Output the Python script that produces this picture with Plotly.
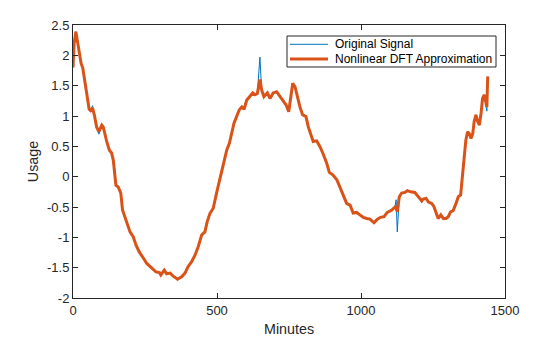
import plotly.graph_objects as go

# Sample times (minutes) shared by both series
minutes = [
    0, 4, 10, 15, 22, 28, 34, 39, 45, 50, 56, 61, 68, 74, 82, 90, 100, 105, 111, 117,
    126, 134, 140, 144, 149, 157, 166, 172, 180, 189, 198, 209, 219, 230, 238, 248, 256,
    267, 277, 288, 300, 305, 317, 325, 337, 348, 363, 377, 389, 400, 412, 424, 435, 447,
    458, 466, 476, 487, 499, 508, 516, 524, 534, 543, 551, 559, 568, 577, 586, 594, 603,
    612, 624, 632, 640, 649, 655, 663, 675, 684, 695, 707, 719, 730, 740, 749, 756, 763,
    771, 779, 788, 797, 809, 817, 825, 834, 846, 858, 869, 881, 890, 902, 916, 927, 938,
    950, 962, 973, 985, 996, 1008, 1020, 1031, 1045, 1057, 1068, 1080, 1091, 1107, 1118,
    1122, 1126, 1133, 1141, 1153, 1161, 1172, 1187, 1199, 1211, 1216, 1226, 1234, 1245,
    1253, 1260, 1268, 1277, 1286, 1295, 1303, 1311, 1320, 1330, 1338, 1346, 1353, 1359,
    1364, 1370, 1376, 1382, 1388, 1393, 1399, 1405, 1411, 1417, 1422, 1428, 1434, 1437, 1440,
]

# Nonlinear DFT approximation of the usage signal
approx = [
    1.80, 2.20, 2.39, 2.25, 2.03, 1.87, 1.79, 1.62, 1.40, 1.24, 1.11, 1.09, 1.13, 1.02, 0.82, 0.74, 0.85, 0.82, 0.69, 0.58,
    0.44, 0.39, 0.27, 0.10, -0.14, -0.17, -0.27, -0.55, -0.66, -0.80, -0.91, -0.99, -1.13, -1.24, -1.29, -1.37, -1.43,
    -1.48, -1.51, -1.57, -1.58, -1.62, -1.54, -1.60, -1.59, -1.64, -1.69, -1.65, -1.59, -1.48, -1.40, -1.29, -1.15, -0.96,
    -0.91, -0.74, -0.60, -0.52, -0.26, -0.08, 0.08, 0.22, 0.44, 0.55, 0.71, 0.88, 0.99, 1.10, 1.15, 1.11, 1.26,
    1.32, 1.38, 1.35, 1.37, 1.60, 1.43, 1.32, 1.38, 1.29, 1.38, 1.40, 1.32, 1.26, 1.18, 1.07, 1.32, 1.54,
    1.48, 1.32, 1.15, 1.02, 0.99, 0.82, 0.70, 0.58, 0.59, 0.49, 0.37, 0.22, 0.07, 0.03, -0.05, -0.19, -0.30,
    -0.44, -0.47, -0.60, -0.59, -0.63, -0.67, -0.69, -0.70, -0.76, -0.70, -0.67, -0.66, -0.59, -0.55, -0.50,
    -0.52, -0.58, -0.33, -0.27, -0.26, -0.23, -0.25, -0.26, -0.33, -0.40, -0.37, -0.36, -0.42, -0.44,
    -0.49, -0.60, -0.69, -0.63, -0.69, -0.69, -0.66, -0.58, -0.56, -0.44, -0.33, -0.30, 0.06, 0.39,
    0.60, 0.74, 0.71, 0.63, 0.71, 0.91, 1.02, 0.91, 0.85, 1.05, 1.29, 1.35, 1.21, 1.15, 1.65,
]

# Original measured signal (same samples, with its short spikes)
signal = [
    1.80, 2.20, 2.39, 2.25, 2.03, 1.87, 1.79, 1.62, 1.40, 1.24, 1.11, 1.09, 1.17, 1.02, 0.82, 0.70, 0.85, 0.82, 0.69, 0.58,
    0.44, 0.39, 0.27, 0.10, -0.14, -0.17, -0.27, -0.55, -0.66, -0.80, -0.91, -0.99, -1.13, -1.24, -1.29, -1.37, -1.43,
    -1.48, -1.51, -1.57, -1.58, -1.62, -1.54, -1.60, -1.59, -1.64, -1.70, -1.65, -1.59, -1.48, -1.40, -1.29, -1.15, -0.96,
    -0.91, -0.74, -0.60, -0.52, -0.26, -0.08, 0.08, 0.22, 0.44, 0.55, 0.71, 0.88, 0.99, 1.10, 1.15, 1.11, 1.26,
    1.32, 1.38, 1.35, 1.37, 1.97, 1.43, 1.32, 1.38, 1.29, 1.38, 1.40, 1.32, 1.26, 1.18, 1.07, 1.32, 1.54,
    1.48, 1.32, 1.15, 1.02, 0.99, 0.82, 0.70, 0.58, 0.59, 0.49, 0.37, 0.22, 0.07, 0.03, -0.05, -0.19, -0.30,
    -0.46, -0.47, -0.60, -0.59, -0.63, -0.67, -0.69, -0.70, -0.76, -0.70, -0.67, -0.66, -0.59, -0.55, -0.50,
    -0.38, -0.91, -0.33, -0.27, -0.26, -0.23, -0.25, -0.26, -0.33, -0.43, -0.37, -0.36, -0.42, -0.44,
    -0.49, -0.62, -0.69, -0.63, -0.71, -0.69, -0.66, -0.58, -0.56, -0.44, -0.33, -0.30, 0.06, 0.39,
    0.60, 0.74, 0.71, 0.63, 0.71, 0.91, 1.02, 0.91, 0.85, 1.05, 1.29, 1.35, 1.21, 1.08, 1.65,
]

x_ticks = [0, 500, 1000, 1500]
y_ticks = [-2, -1.5, -1, -0.5, 0, 0.5, 1, 1.5, 2, 2.5]
y_tick_text = ["-2", "-1.5", "-1", "-0.5", "0", "0.5", "1", "1.5", "2", "2.5"]
series_names = ["Original Signal", "Nonlinear DFT Approximation"]

FONT = "Liberation Sans, Arial, Helvetica, sans-serif"
AXIS_COLOR = "#262626"
BLUE = "#0072BD"
ORANGE = "#D95319"
line_styles = [dict(color=BLUE, width=1), dict(color=ORANGE, width=3)]

fig = go.Figure()
for ys, name, style in zip([signal, approx], series_names, line_styles):
    fig.add_trace(go.Scatter(
        x=minutes, y=ys, mode="lines", name=name, line=style, showlegend=False,
    ))

axis_common = dict(
    showline=True, linecolor=AXIS_COLOR, linewidth=1, mirror="allticks",
    ticks="inside", ticklen=5, tickcolor=AXIS_COLOR, tickwidth=1,
    showgrid=False, zeroline=False, automargin=False,
    tickfont=dict(family=FONT, size=13, color=AXIS_COLOR),
)

fig.update_layout(
    width=560, height=337,
    margin=dict(l=73, r=55, t=25, b=39),
    paper_bgcolor="white", plot_bgcolor="white",
    font=dict(family=FONT, color=AXIS_COLOR),
)
fig.update_xaxes(
    range=[0, 1500], tickvals=x_ticks, ticktext=[str(v) for v in x_ticks],
    title=dict(text="Minutes", font=dict(family=FONT, size=14.3, color=AXIS_COLOR), standoff=8),
    **axis_common,
)
fig.update_yaxes(
    range=[-2, 2.5], tickvals=y_ticks, ticktext=y_tick_text,
    title=dict(text="Usage", font=dict(family=FONT, size=14.3, color=AXIS_COLOR), standoff=4),
    **axis_common,
)

# Boxed legend in the upper right of the axes (paper coordinates)
box_x0, box_x1, box_y0, box_y1 = 0.4954, 0.9792, 0.8462, 0.9597
fig.add_shape(type="rect", xref="paper", yref="paper",
              x0=box_x0, x1=box_x1, y0=box_y0, y1=box_y1,
              line=dict(color=AXIS_COLOR, width=1), fillcolor="white", layer="above")
row_y = [0.9293, 0.8755]
for name, style, yy in zip(series_names, line_styles, row_y):
    fig.add_shape(type="line", xref="paper", yref="paper",
                  x0=0.5023, x1=0.5903, y0=yy, y1=yy, line=style, layer="above")
    fig.add_annotation(xref="paper", yref="paper", x=0.6019, y=yy, text=name,
                       showarrow=False, xanchor="left", yanchor="middle",
                       font=dict(family=FONT, size=12, color="#000000"))

fig.write_html("out.html")
